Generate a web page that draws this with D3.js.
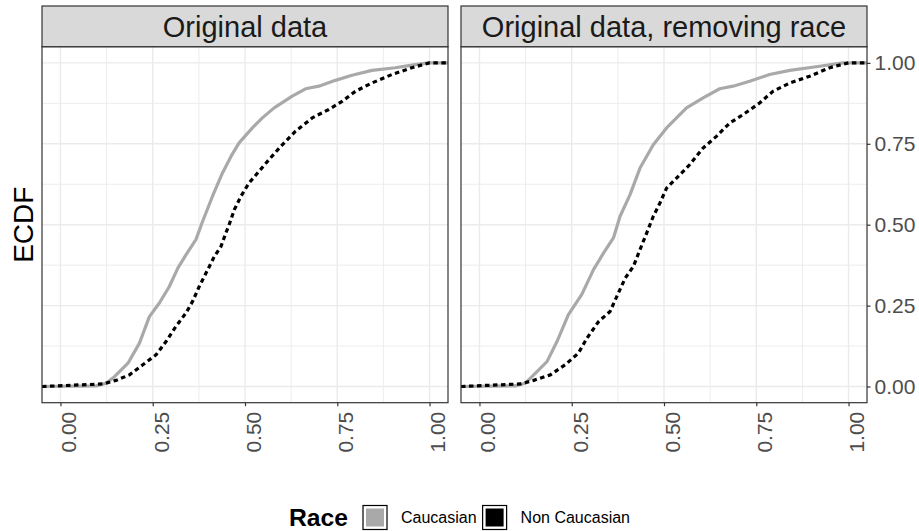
<!DOCTYPE html>
<html>
<head>
<meta charset="utf-8">
<script src="https://cdn.jsdelivr.net/npm/d3@7"></script>
<style>
  html, body { margin: 0; padding: 0; background: #fff; }
  svg { display: block; font-family: "Liberation Sans", Arial, Helvetica, sans-serif; }
</style>
</head>
<body>
<svg id="chart" width="919" height="531"></svg>
<script>
// ---------- data ----------
const panelTitles = ["Original data", "Original data, removing race"];
const raceGroups = ["Caucasian", "Non Caucasian"];
const xTickValues = [0, 0.25, 0.5, 0.75, 1];
const yTickValues = [0, 0.25, 0.5, 0.75, 1];
const xTickLabels = ["0.00", "0.25", "0.50", "0.75", "1.00"];
const yTickLabels = ["0.00", "0.25", "0.50", "0.75", "1.00"];

// Panel 1: Original data
const caucX1 = [-0.05, 0.097, 0.124, 0.147, 0.183, 0.214, 0.241, 0.268, 0.295, 0.318, 0.340, 0.367, 0.385, 0.412, 0.439, 0.462, 0.484, 0.520, 0.547, 0.579, 0.628, 0.664, 0.700, 0.745, 0.790, 0.844, 0.907, 0.952, 0.997, 1.05];
const caucY1 = [0, 0.002, 0.010, 0.031, 0.072, 0.134, 0.216, 0.258, 0.309, 0.366, 0.407, 0.454, 0.510, 0.588, 0.660, 0.711, 0.753, 0.799, 0.830, 0.861, 0.897, 0.920, 0.928, 0.946, 0.962, 0.977, 0.985, 0.993, 1.0, 1.0];
const nonX1 = [-0.05, 0.115, 0.151, 0.187, 0.223, 0.259, 0.286, 0.313, 0.340, 0.358, 0.376, 0.399, 0.417, 0.435, 0.448, 0.457, 0.471, 0.489, 0.511, 0.538, 0.565, 0.601, 0.637, 0.682, 0.727, 0.763, 0.799, 0.844, 0.898, 0.952, 1.0, 1.05];
const nonY1 = [0, 0.008, 0.019, 0.036, 0.067, 0.098, 0.139, 0.186, 0.227, 0.263, 0.309, 0.361, 0.402, 0.433, 0.474, 0.500, 0.546, 0.588, 0.629, 0.665, 0.701, 0.747, 0.789, 0.830, 0.856, 0.881, 0.912, 0.938, 0.964, 0.985, 1.0, 1.0];

// Panel 2: Original data, removing race
const caucX2 = [-0.05, 0.097, 0.124, 0.147, 0.183, 0.210, 0.241, 0.277, 0.309, 0.336, 0.363, 0.381, 0.408, 0.435, 0.471, 0.507, 0.561, 0.606, 0.651, 0.687, 0.732, 0.786, 0.841, 0.912, 0.985, 1.05];
const caucY2 = [0, 0.002, 0.010, 0.036, 0.077, 0.139, 0.222, 0.284, 0.361, 0.412, 0.459, 0.526, 0.593, 0.675, 0.747, 0.799, 0.861, 0.892, 0.920, 0.928, 0.943, 0.964, 0.977, 0.988, 1.0, 1.0];
const nonX2 = [-0.05, 0.111, 0.147, 0.192, 0.232, 0.268, 0.291, 0.323, 0.354, 0.372, 0.395, 0.417, 0.435, 0.453, 0.471, 0.489, 0.507, 0.534, 0.570, 0.606, 0.642, 0.678, 0.714, 0.759, 0.795, 0.841, 0.895, 0.949, 1.0, 1.05];
const nonY2 = [0, 0.008, 0.019, 0.036, 0.067, 0.103, 0.149, 0.201, 0.232, 0.278, 0.335, 0.371, 0.423, 0.474, 0.526, 0.567, 0.613, 0.644, 0.686, 0.737, 0.773, 0.814, 0.840, 0.876, 0.912, 0.938, 0.959, 0.985, 1.0, 1.0];

const raceColors = ["#a9a9a9", "#000000"];

// ---------- layout ----------
const svg = d3.select("#chart");
const panelTop = 46.7, panelBottom = 402.7, stripTop = 6;
const panelXs = [[42, 448], [461, 867]];
const seriesByPanel = [
  [d3.zip(caucX1, caucY1), d3.zip(nonX1, nonY1)],
  [d3.zip(caucX2, caucY2), d3.zip(nonX2, nonY2)]
];

const y = d3.scaleLinear().domain([-0.05, 1.05]).range([panelBottom, panelTop]);
const yMinor = [0.125, 0.375, 0.625, 0.875];
const xMinor = [0.125, 0.375, 0.625, 0.875];

panelTitles.forEach((title, p) => {
  const [x0, x1] = panelXs[p];
  const x = d3.scaleLinear().domain([-0.05, 1.05]).range([x0, x1]);
  const g = svg.append("g");

  g.append("rect").attr("x", x0).attr("y", panelTop).attr("width", x1 - x0).attr("height", panelBottom - panelTop).attr("fill", "#fff");

  // minor grid
  g.selectAll(".vminor").data(xMinor).join("line")
    .attr("x1", d => x(d)).attr("x2", d => x(d)).attr("y1", panelTop).attr("y2", panelBottom)
    .attr("stroke", "#ebebeb").attr("stroke-width", 0.9);
  g.selectAll(".hminor").data(yMinor).join("line")
    .attr("y1", d => y(d)).attr("y2", d => y(d)).attr("x1", x0).attr("x2", x1)
    .attr("stroke", "#ebebeb").attr("stroke-width", 0.9);
  // major grid
  g.selectAll(".vmajor").data(xTickValues).join("line")
    .attr("x1", d => x(d)).attr("x2", d => x(d)).attr("y1", panelTop).attr("y2", panelBottom)
    .attr("stroke", "#ebebeb").attr("stroke-width", 1.4);
  g.selectAll(".hmajor").data(yTickValues).join("line")
    .attr("y1", d => y(d)).attr("y2", d => y(d)).attr("x1", x0).attr("x2", x1)
    .attr("stroke", "#ebebeb").attr("stroke-width", 1.4);

  // ECDF lines
  const clipId = "clip" + p;
  svg.append("clipPath").attr("id", clipId).append("rect")
    .attr("x", x0).attr("y", panelTop - 2).attr("width", x1 - x0).attr("height", panelBottom - panelTop + 4);
  const line = d3.line().x(d => x(d[0])).y(d => y(d[1]));
  seriesByPanel[p].forEach((pts, i) => {
    g.append("path").datum(pts)
      .attr("clip-path", `url(#${clipId})`)
      .attr("d", line)
      .attr("fill", "none")
      .attr("stroke", raceColors[i])
      .attr("stroke-width", 3.2)
      .attr("stroke-linejoin", "round")
      .attr("stroke-dasharray", i === 1 ? "4.5,3.5" : null);
  });

  // panel border
  g.append("rect").attr("x", x0).attr("y", panelTop).attr("width", x1 - x0).attr("height", panelBottom - panelTop)
    .attr("fill", "none").attr("stroke", "#333333").attr("stroke-width", 1.2);

  // strip
  g.append("rect").attr("x", x0).attr("y", stripTop).attr("width", x1 - x0).attr("height", panelTop - stripTop)
    .attr("fill", "#d9d9d9").attr("stroke", "#333333").attr("stroke-width", 1.2);
  g.append("text").attr("x", (x0 + x1) / 2).attr("y", (stripTop + panelTop) / 2)
    .attr("dy", "0.36em").attr("text-anchor", "middle")
    .attr("font-size", 29).attr("fill", "#1a1a1a").text(title);

  // x axis
  const xAxis = d3.axisBottom(x).tickValues(xTickValues).tickSize(3.5).tickPadding(0)
    .tickFormat((d, i) => xTickLabels[i]);
  const xa = g.append("g").attr("transform", `translate(0,${panelBottom})`).call(xAxis);
  xa.select(".domain").remove();
  xa.selectAll(".tick line").attr("stroke", "#333333").attr("stroke-width", 1.2);
  xa.selectAll(".tick text")
    .attr("transform", "translate(0,9) rotate(-90)")
    .attr("x", 0).attr("y", 0).attr("dy", "0.73em")
    .attr("text-anchor", "end")
    .attr("font-size", 21).attr("fill", "#4d4d4d")
    .style("font-family", "\"Liberation Sans\", Arial, sans-serif");

  // y axis on the right of the second panel
  if (p === 1) {
    const yAxis = d3.axisRight(y).tickValues(yTickValues).tickSize(3.5).tickPadding(4)
      .tickFormat((d, i) => yTickLabels[i]);
    const ya = g.append("g").attr("transform", `translate(${x1},0)`).call(yAxis);
    ya.select(".domain").remove();
    ya.selectAll(".tick line").attr("stroke", "#333333").attr("stroke-width", 1.2);
    ya.selectAll(".tick text").attr("font-size", 21).attr("fill", "#4d4d4d")
      .style("font-family", "\"Liberation Sans\", Arial, sans-serif");
  }
});

// y axis title
svg.append("text")
  .attr("transform", `translate(33,${(panelTop + panelBottom) / 2}) rotate(-90)`)
  .attr("text-anchor", "middle").attr("font-size", 28).attr("fill", "#000")
  .text("ECDF");

// ---------- legend ----------
const leg = svg.append("g");
const legY = 517.5, keySize = 24;
const title = leg.append("text").attr("x", 0).attr("y", legY).attr("dy", "0.36em")
  .attr("font-size", 24.7).attr("font-weight", "bold").attr("fill", "#000").text("Race");
let cx = title.node().getComputedTextLength() + 15;
raceGroups.forEach((name, i) => {
  leg.append("rect").attr("x", cx).attr("y", legY - keySize / 2).attr("width", keySize).attr("height", keySize)
    .attr("fill", "#fff").attr("stroke", "#000").attr("stroke-width", 1.2);
  leg.append("rect").attr("x", cx + 3).attr("y", legY - keySize / 2 + 3).attr("width", keySize - 6).attr("height", keySize - 6)
    .attr("fill", raceColors[i]);
  cx += keySize + 14;
  const t = leg.append("text").attr("x", cx).attr("y", legY).attr("dy", "0.36em")
    .attr("font-size", 16).attr("fill", "#000").text(name);
  cx += t.node().getComputedTextLength() + 6;
});
const legW = cx - 6;
leg.attr("transform", `translate(${459.5 - legW / 2},0)`);
</script>
</body>
</html>
